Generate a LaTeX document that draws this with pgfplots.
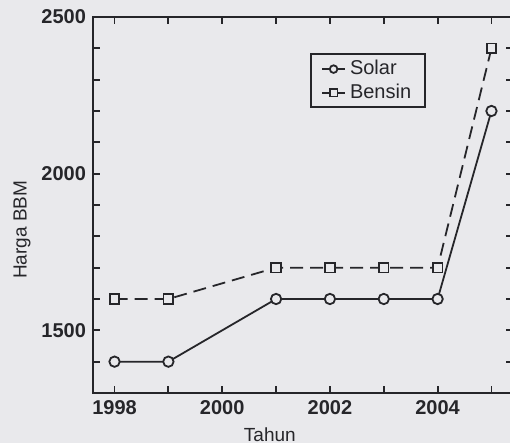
\documentclass[border=0pt]{standalone}
\usepackage{pgfplots}
\pgfplotsset{compat=1.18}
\usepackage{fontspec}
\setmainfont{Liberation Sans}
\definecolor{bg}{RGB}{233,233,236}
\definecolor{ink}{RGB}{38,38,42}
\begin{document}
\begin{tikzpicture}
\fill[bg] (-46.5pt,-25pt) rectangle (208.5pt,196.5pt);
\begin{axis}[
  at={(0pt,0pt)}, anchor=south west,
  scale only axis, width=210pt, height=188pt,
  xmin=1997.6, xmax=2005.4, ymin=1300, ymax=2500,
  xtick={1998,2000,2002,2004}, minor xtick={1999,2001,2003,2005},
  ytick={1500,2000,2500}, minor ytick={1300,1400,...,2500},
  major tick length=3.5pt, minor tick length=3.5pt,
  tick align=inside,
  /pgf/number format/assume math mode=true,
  /pgf/number format/1000 sep={},
  tick label style={font=\bfseries\fontsize{10}{12}\selectfont, color=ink},
  axis line style={line width=0.9pt, color=ink},
  every tick/.style={line width=0.9pt, color=ink},
  xlabel={Tahun}, ylabel={Harga BBM},
  label style={font=\fontsize{9.5}{11}\selectfont, color=ink},
  xlabel style={at={(axis description cs:0.421,-0.112)}, anchor=center},
  ylabel style={at={(axis description cs:-0.169,0.434)}, anchor=center},
  legend style={at={(rel axis cs:0.793,0.903)}, anchor=north east,
    draw=ink, line width=0.9pt, fill=bg, text=ink,
    font=\fontsize{10}{12}\selectfont, row sep=-1pt,
    inner xsep=5pt, inner ysep=1pt},
  legend cell align=left,
  legend image code/.code={\draw[mark repeat=2,mark phase=2,#1,solid,mark size=1.9pt] plot coordinates {(0pt,0pt)(5.75pt,0pt)(11.5pt,0pt)};},
]
\addplot[color=ink, line width=0.9pt, mark=*, mark size=2.6pt,
  mark options={fill=bg, draw=ink, solid}] coordinates {
  (1998,1400)(1999,1400)(2001,1600)(2002,1600)(2003,1600)(2004,1600)(2005,2200)};
\addlegendentry{Solar}
\addplot[color=ink, line width=0.9pt, dash pattern=on 6.5pt off 3.5pt,
  mark=square*, mark size=2.4pt, mark options={fill=bg, draw=ink, solid}] coordinates {
  (1998,1600)(1999,1600)(2001,1700)(2002,1700)(2003,1700)(2004,1700)(2005,2400)};
\addlegendentry{Bensin}
\end{axis}
\pgfresetboundingbox
\useasboundingbox (-46.5pt,-25pt) rectangle (208.5pt,196.5pt);
\end{tikzpicture}
\end{document}
